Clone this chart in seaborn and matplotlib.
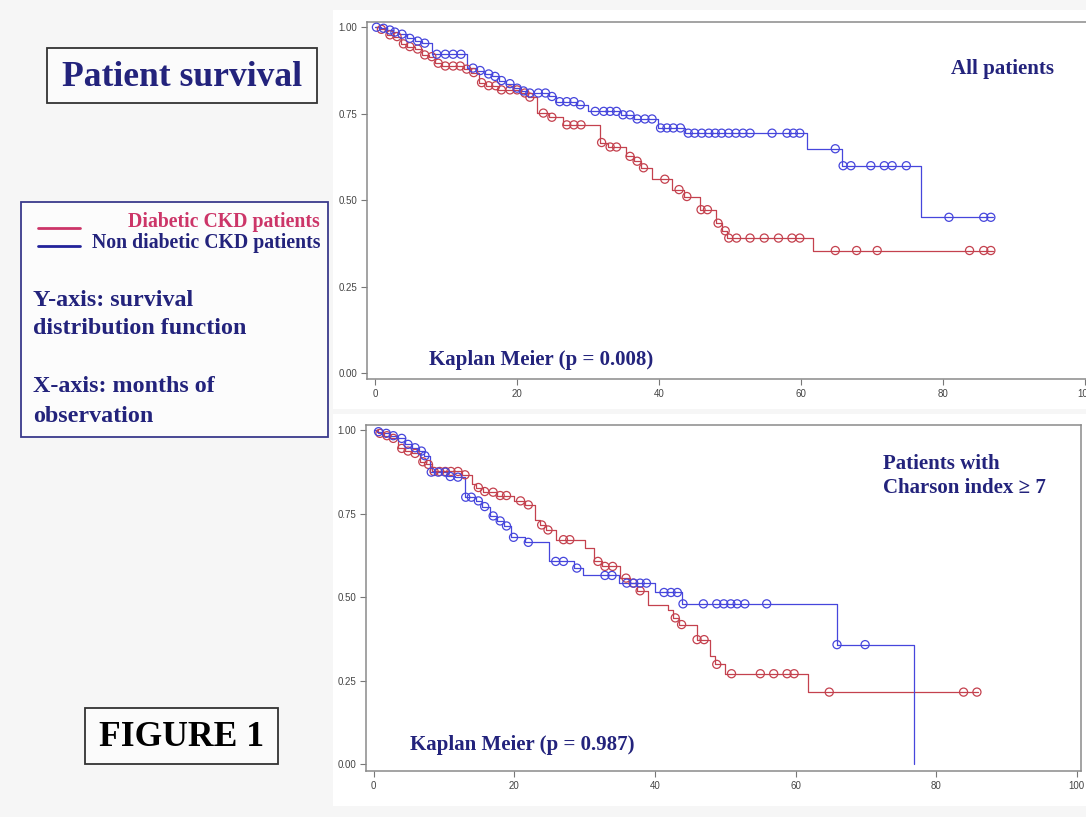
import numpy as np
import pandas as pd
import matplotlib
matplotlib.use("Agg")
import matplotlib.pyplot as plt
from matplotlib.patches import Rectangle
from matplotlib.lines import Line2D
import seaborn as sns

# ---- data (months, survival) ----
# All patients, diabetic CKD
top_dm_times = [0.6, 1.7, 2.7, 3.6, 4.5, 5.6, 6.6, 7.6, 8.5, 9.5, 12.5, 13.5, 14.6, 15.6,
                17.3, 20.6, 21.5, 22.8, 24.5, 26.5, 31.7, 32.8, 35.4, 36.5, 37.5, 39.0,
                41.8, 43.5, 45.8, 48.0, 48.8, 49.5, 61.7]
top_dm_surv = [.994, .978, .973, .952, .944, .937, .920, .915, .896, .888, .879, .869, .840, .831,
               .819, .810, .798, .752, .740, .718, .667, .654, .627, .613, .594, .561,
               .531, .511, .473, .434, .412, .391, .355]
top_dm_censor = [0.9, 2.1, 3.1, 4.0, 4.9, 6.0, 7.0, 8.0, 8.9, 9.9, 11.0, 12.0, 12.9, 13.9, 15.0,
                 16.0, 17.0, 17.8, 19.0, 20.0, 21.1, 21.8, 23.7, 24.9, 27.0, 28.0, 29.0, 31.9,
                 33.1, 34.0, 35.9, 36.9, 37.8, 40.8, 42.8, 43.9, 45.9, 46.8, 48.3, 49.3, 49.8,
                 50.9, 52.8, 54.8, 56.8, 58.7, 59.8, 64.8, 67.8, 70.7, 83.7, 85.7, 86.7]
top_dm_end = 87.0

# All patients, non diabetic CKD
top_nd_times = [0.8, 1.7, 2.5, 3.4, 4.5, 5.6, 6.6, 8.0, 12.9, 14.4, 15.5, 16.5, 17.4, 18.5,
                19.6, 20.5, 21.4, 24.5, 25.5, 28.5, 30.0, 34.6, 36.4, 39.8, 43.6, 60.8, 65.7, 76.9]
top_nd_surv = [.997, .992, .986, .980, .968, .960, .954, .922, .882, .875, .865, .858, .846, .837,
               .824, .816, .810, .800, .785, .776, .757, .747, .735, .709, .694, .649, .600, .451]
top_nd_censor = [0.2, 1.2, 2.1, 2.8, 3.8, 4.9, 6.0, 7.0, 8.7, 9.9, 11.0, 12.1, 13.8, 14.8, 16.0,
                 16.9, 17.8, 19.0, 20.0, 20.9, 21.8, 23.0, 24.0, 24.9, 26.0, 27.0, 28.0, 28.9,
                 31.0, 32.2, 33.1, 34.0, 34.9, 35.9, 36.9, 38.0, 39.0, 40.2, 41.1, 42.0, 43.0,
                 44.1, 45.0, 46.0, 47.0, 47.9, 48.8, 49.8, 50.8, 51.8, 52.8, 55.9, 58.0, 58.9,
                 59.8, 64.8, 65.9, 67.0, 69.8, 71.7, 72.8, 74.8, 80.8, 85.7, 86.7]
top_nd_end = 87.0

# Charlson >= 7, diabetic CKD
bot_dm_times = [0.6, 1.5, 2.4, 3.5, 4.5, 5.5, 6.6, 7.5, 8.3, 12.6, 14.0, 14.6, 15.5, 16.5, 17.5,
                20.0, 21.5, 23.0, 23.6, 24.5, 26.0, 30.0, 31.3, 32.5, 35.0, 36.5, 37.5, 39.0,
                41.9, 42.6, 43.5, 46.0, 47.9, 48.5, 50.0, 61.8]
bot_dm_surv = [.990, .983, .975, .945, .937, .930, .905, .897, .876, .866, .840, .828, .816, .814, .804,
               .788, .776, .730, .716, .701, .672, .648, .607, .592, .557, .542, .519, .478,
               .463, .438, .418, .373, .323, .299, .271, .216]
bot_dm_censor = [0.9, 1.9, 2.8, 4.0, 4.9, 5.9, 7.0, 7.8, 8.6, 9.4, 10.2, 11.0, 12.0, 13.0, 14.9,
                 15.8, 17.0, 18.0, 18.9, 20.9, 22.0, 23.9, 24.8, 27.0, 27.9, 31.9, 32.9, 34.0,
                 35.9, 36.9, 37.9, 42.9, 43.8, 46.0, 47.0, 48.8, 50.9, 55.0, 56.9, 58.8, 59.8,
                 64.8, 83.9, 85.8]
bot_dm_end = 86.0

# Charlson >= 7, non diabetic CKD
bot_nd_times = [0.5, 1.4, 2.4, 3.5, 4.5, 5.5, 6.4, 7.1, 8.0, 10.5, 11.6, 13.0, 14.5, 15.4, 16.5,
                17.6, 18.5, 19.6, 21.5, 25.0, 28.5, 29.8, 34.9, 40.0, 43.8, 65.9, 76.9]
bot_nd_surv = [.995, .990, .983, .975, .957, .947, .937, .923, .874, .861, .859, .799, .788, .771, .743,
               .728, .713, .679, .664, .607, .587, .565, .542, .514, .480, .358, 0.0]
bot_nd_censor = [0.7, 1.8, 2.8, 4.0, 4.9, 5.9, 6.8, 7.3, 8.2, 9.2, 10.2, 10.9, 12.0, 13.1, 13.9,
                 14.9, 15.8, 17.0, 18.0, 18.9, 19.9, 22.0, 25.9, 27.0, 28.9, 32.9, 33.9, 36.0,
                 37.0, 37.9, 38.8, 41.3, 42.3, 43.2, 44.0, 46.9, 48.8, 49.8, 50.8, 51.7, 52.8,
                 55.9, 65.9, 69.9]
bot_nd_end = 76.9

x_ticks = [0, 20, 40, 60, 80, 100]
y_ticks = [0.0, 0.25, 0.5, 0.75, 1.0]

RED = "#c4414e"
BLUE = "#4646dc"
NAVY = "#23237c"
PINK = "#cc3568"

W, H = 1086, 817
fig = plt.figure(figsize=(W / 100, H / 100), dpi=100)
fig.patch.set_facecolor("#f6f6f6")
sns.set_style("white")
plt.rcParams["font.family"] = ["Liberation Sans Narrow", "Liberation Sans", "DejaVu Sans"]

SERIF = ["Liberation Serif", "DejaVu Serif"]


def fx(x):
    return x / W


def fy(y):
    return 1 - y / H


def step_frame(times, surv, end):
    t = [0.0] + list(times)
    s = [1.0] + list(surv)
    if end > t[-1]:
        t.append(end)
        s.append(s[-1])
    return pd.DataFrame({"month": t, "surv": s})


def censor_frame(times, surv, cens):
    t = np.array([0.0] + list(times))
    s = np.array([1.0] + list(surv))
    idx = np.searchsorted(t, np.array(cens), side="right") - 1
    return pd.DataFrame({"month": cens, "surv": s[idx]})


def km_panel(ax, curves, xlim, ylim):
    for times, surv, cens, end, col in curves:
        sns.lineplot(data=step_frame(times, surv, end), x="month", y="surv", ax=ax,
                     drawstyle="steps-post", estimator=None, sort=False, color=col, lw=0.9)
        sns.scatterplot(data=censor_frame(times, surv, cens), x="month", y="surv", ax=ax,
                        marker="o", s=34, color=col, facecolor="none", edgecolor=col,
                        linewidth=0.9, zorder=3)
    ax.set_xlim(*xlim)
    ax.set_ylim(*ylim)
    ax.set_xticks(x_ticks)
    ax.set_yticks(y_ticks)
    ax.set_xticklabels([str(v) for v in x_ticks])
    ax.set_yticklabels([f"{v:.2f}" for v in y_ticks])
    ax.set_xlabel("")
    ax.set_ylabel("")
    ax.set_facecolor("white")
    ax.tick_params(direction="out", length=4, width=0.8, color="#777777",
                   labelsize=7, labelcolor="#444444", pad=3, left=True, bottom=True)
    for sp in ax.spines.values():
        sp.set_color("#8a8a8a")
        sp.set_linewidth(1.1)


# white backgrounds behind the two charts
fig.add_artist(Rectangle((fx(333), fy(409)), fx(W - 333), fy(10) - fy(409),
                         transform=fig.transFigure, facecolor="white", edgecolor="none", zorder=0))
fig.add_artist(Rectangle((fx(333), fy(806)), fx(W - 333), fy(414) - fy(806),
                         transform=fig.transFigure, facecolor="white", edgecolor="none", zorder=0))

ax1 = fig.add_axes([fx(366.7), fy(379.3), fx(W - 366.7) + 0.002, fy(21.7) - fy(379.3)])
km_panel(ax1, [(top_dm_times, top_dm_surv, top_dm_censor, top_dm_end, RED),
               (top_nd_times, top_nd_surv, top_nd_censor, top_nd_end, BLUE)],
         (-1.17, 100.4), (-0.017, 1.016))

ax2 = fig.add_axes([fx(366), fy(771), fx(1081 - 366), fy(425) - fy(771)])
km_panel(ax2, [(bot_dm_times, bot_dm_surv, bot_dm_censor, bot_dm_end, RED),
               (bot_nd_times, bot_nd_surv, bot_nd_censor, bot_nd_end, BLUE)],
         (-1.08, 100.6), (-0.02, 1.015))

# in-chart annotations
fig.text(fx(951), fy(69), "All patients", family=SERIF, weight="bold", size=15,
         color=NAVY, ha="left", va="center")
fig.text(fx(883), fy(464), "Patients with", family=SERIF, weight="bold", size=15,
         color=NAVY, ha="left", va="center")
fig.text(fx(883), fy(488), "Charson index \u2265 7", family=SERIF, weight="bold", size=15,
         color=NAVY, ha="left", va="center")
fig.text(fx(429), fy(360), "Kaplan Meier (p = 0.008)", family=SERIF, weight="bold", size=15,
         color=NAVY, ha="left", va="center")
fig.text(fx(410), fy(745), "Kaplan Meier (p = 0.987)", family=SERIF, weight="bold", size=15,
         color=NAVY, ha="left", va="center")

# title box
fig.add_artist(Rectangle((fx(47), fy(103)), fx(317 - 47), fy(48) - fy(103),
                         transform=fig.transFigure, facecolor="#fbfbfb", edgecolor="#333333",
                         lw=1.3))
fig.text(fx(182), fy(77), "Patient survival", family=SERIF, weight="bold", size=25.6,
         color=NAVY, ha="center", va="center")

# FIGURE 1 box
fig.add_artist(Rectangle((fx(85), fy(764)), fx(278 - 85), fy(708) - fy(764),
                         transform=fig.transFigure, facecolor="#fbfbfb", edgecolor="#333333",
                         lw=1.3))
fig.text(fx(182), fy(738), "FIGURE 1", family=SERIF, weight="bold", size=25.6,
         color="black", ha="center", va="center")

# legend / explanation box
fig.add_artist(Rectangle((fx(21), fy(437)), fx(328 - 21), fy(202) - fy(437),
                         transform=fig.transFigure, facecolor="#fcfcfc", edgecolor="#3a3a8c",
                         lw=1.3))
fig.add_artist(Line2D([fx(38), fx(80)], [fy(228), fy(228)], transform=fig.transFigure,
                      color=PINK, lw=2))
fig.add_artist(Line2D([fx(38), fx(80)], [fy(246), fy(246)], transform=fig.transFigure,
                      color="#22229a", lw=2))
fig.text(fx(320), fy(222), "Diabetic CKD patients", family=SERIF, weight="bold", size=14.2,
         color=PINK, ha="right", va="center")
fig.text(fx(320), fy(243), "Non diabetic CKD patients", family=SERIF, weight="bold", size=14.2,
         color=NAVY, ha="right", va="center")
for txt, yy in [("Y-axis: survival", 300), ("distribution function", 329),
                ("X-axis: months of", 386), ("observation", 416)]:
    fig.text(fx(33), fy(yy), txt, family=SERIF, weight="bold", size=17.3,
             color=NAVY, ha="left", va="center")

fig.savefig("out.png", dpi=100, facecolor=fig.get_facecolor())
